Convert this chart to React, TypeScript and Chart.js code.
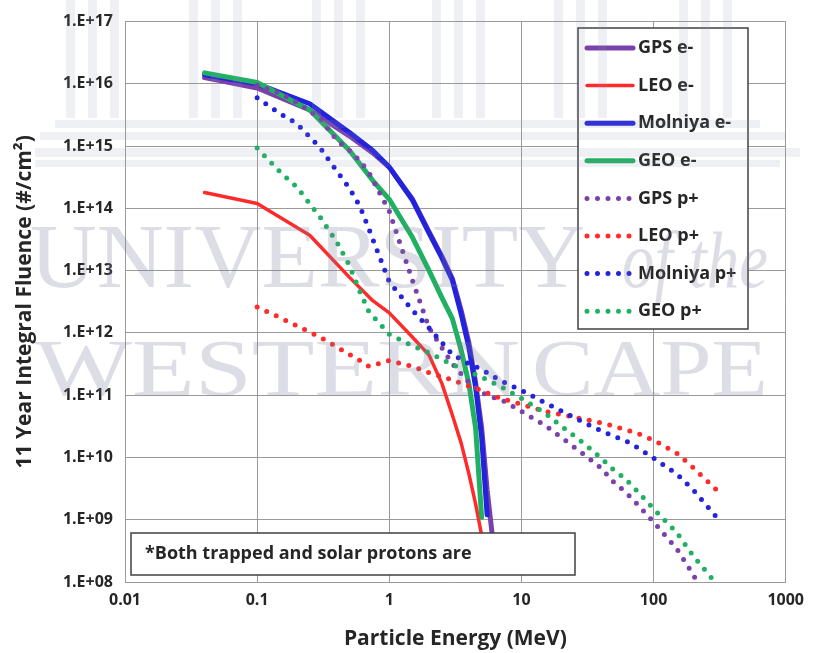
import React, { useEffect, useRef } from 'react';
import { Chart, registerables } from 'chart.js';

Chart.register(...registerables);

// ---------------- data ----------------
const electronEnergy = [0.04, 0.1, 0.25, 0.5, 0.75, 1, 1.5, 2, 2.5, 3, 3.5, 4, 4.5, 5, 5.5, 6];
const protonEnergy = [0.1, 0.15, 0.2, 0.3, 0.4, 0.5, 0.6, 0.7, 1, 1.5, 2, 3, 4, 5, 6, 7, 10, 15, 20, 30, 40, 50, 60, 70, 100, 150, 200, 300];

const gpsElectron = [1.26e16, 8.6e15, 3.8e15, 1.45e15, 7.8e14, 4.6e14, 1.4e14, 4.2e13, 1.7e13, 7.5e12, 2.3e12, 7e11, 1.6e11, 3e10, 3e9, 6e8];
const leoElectron = [1.8e14, 1.2e14, 3.7e13, 7.8e12, 3.3e12, 2.1e12, 8.5e11, 4.4e11, 1.55e11, 4.8e10, 1.7e10, 5.5e9, 1.8e9, 5.6e8];
const molniyaElectron = [1.4e16, 1.0e16, 4.8e15, 1.66e15, 8.5e14, 4.6e14, 1.35e14, 4e13, 1.6e13, 7e12, 2e12, 5.9e11, 1.35e11, 2.1e10, 1.2e9];
const geoElectron = [1.5e16, 1.05e16, 3.8e15, 8.5e14, 2.8e14, 1.4e14, 3.4e13, 1e13, 3.7e12, 1.7e12, 5.3e11, 1.55e11, 3e10, 1.1e9];

const gpsProton = [9.5e15, 7e15, 5e15, 2.8e15, 1.25e15, 8.5e14, 5.8e14, 3.8e14, 9e13, 6.9e12, 1.2e12, 3.2e11, 1.6e11, 1.1e11, 9.3e10, 8.5e10, 5.5e10, 3.3e10, 2.1e10, 1.1e10, 6.8e9, 4e9, 2.9e9, 2.1e9, 9.2e8, 3.4e8, 1.3e8, 2.5e7];
const leoProton = [2.6e12, 1.75e12, 1.3e12, 8.5e11, 6e11, 4.5e11, 3.6e11, 2.9e11, 3.6e11, 2.9e11, 2.3e11, 1.75e11, 1.4e11, 1.2e11, 1e11, 8.9e10, 7.1e10, 5.5e10, 4.9e10, 4.1e10, 3.6e10, 3.2e10, 2.8e10, 2.6e10, 1.9e10, 1.17e10, 6.8e9, 3e9];
const molniyaProton = [6e15, 3.3e15, 2.3e15, 9.4e14, 4e14, 2.1e14, 1.07e14, 4.7e13, 6.6e12, 2.3e12, 1.2e12, 4.5e11, 3.2e11, 2.6e11, 2.05e11, 1.7e11, 1.2e11, 7.6e10, 5.6e10, 3.6e10, 2.7e10, 2.2e10, 1.9e10, 1.6e10, 9.8e9, 5.4e9, 3e9, 1.1e9];
const geoProton = [9.3e14, 3.8e14, 2.2e14, 7.2e13, 2.9e13, 1.2e13, 4.6e12, 2.2e12, 9.5e11, 6.2e11, 4.8e11, 3.1e11, 2.4e11, 1.95e11, 1.6e11, 1.38e11, 8.9e10, 5.2e10, 3.2e10, 1.66e10, 9.8e9, 6.3e9, 4.7e9, 3.4e9, 1.5e9, 6.2e8, 2.6e8, 9.3e7];

const seriesLabels = ['GPS e-', 'LEO e-', 'Molniya e-', 'GEO e-', 'GPS p+', 'LEO p+', 'Molniya p+', 'GEO p+'];

const xTickValues = [0.01, 0.1, 1, 10, 100, 1000];
const xTickLabels = ['0.01', '0.1', '1', '10', '100', '1000'];
const yTickValues = [1e8, 1e9, 1e10, 1e11, 1e12, 1e13, 1e14, 1e15, 1e16, 1e17];
const yTickLabels = ['1.E+08', '1.E+09', '1.E+10', '1.E+11', '1.E+12', '1.E+13', '1.E+14', '1.E+15', '1.E+16', '1.E+17'];

const xTitle = 'Particle Energy (MeV)';
const yTitle = '11 Year Integral Fluence (#/cm\u00B2)';
const noteText = '*Both trapped and solar protons are';
const watermarkLine1 = 'UNIVERSITY';
const watermarkLine1b = 'of the';
const watermarkLine2 = 'WESTERN';
const watermarkLine2b = 'CAPE';

// ---------------- styles ----------------
const PURPLE = '#7A40AC';
const RED = '#FF2B2B';
const BLUE = '#2323DC';
const GREEN = '#20B062';
const FONT = '"Open Sans"';
const TEXT = '#262626';
const GRID = '#9a9a9a';

const toPoints = (xs: number[], ys: number[]) => ys.map((y, i) => ({ x: xs[i], y }));

const overlayPlugin = {
  id: 'overlay',
  afterDatasetsDraw(chart: any) {
    const ctx = chart.ctx as CanvasRenderingContext2D;
    // note box
    ctx.save();
    ctx.fillStyle = '#ffffff';
    ctx.fillRect(131, 533, 444, 42);
    ctx.strokeStyle = '#404040';
    ctx.lineWidth = 1.5;
    ctx.strokeRect(131, 533, 444, 42);
    ctx.fillStyle = TEXT;
    ctx.font = `bold 18px ${FONT}`;
    ctx.textBaseline = 'middle';
    ctx.fillText(noteText, 145, 554);
    ctx.restore();

    // legend
    ctx.save();
    ctx.fillStyle = '#ffffff';
    ctx.fillRect(578, 28, 170, 301);
    ctx.strokeStyle = '#404040';
    ctx.lineWidth = 1.5;
    ctx.strokeRect(578, 28, 170, 301);
    chart.data.datasets.forEach((ds: any, i: number) => {
      const y = 48 + i * 37.6;
      ctx.save();
      ctx.strokeStyle = ds.borderColor;
      ctx.lineWidth = ds.borderWidth;
      ctx.setLineDash(ds.borderDash || []);
      ctx.lineCap = 'round';
      ctx.beginPath();
      if (ds.borderDash) {
        ctx.moveTo(587, y);
        ctx.lineTo(631, y);
      } else {
        ctx.moveTo(587, y);
        ctx.lineTo(633, y);
      }
      ctx.stroke();
      ctx.restore();
      ctx.fillStyle = TEXT;
      ctx.font = `bold 18px ${FONT}`;
      ctx.textBaseline = 'middle';
      ctx.fillText(ds.label, 638, y);
    });
    ctx.restore();
  },
  afterDraw(chart: any) {
    const ctx = chart.ctx as CanvasRenderingContext2D;
    ctx.save();
    // faint watermark: building columns
    ctx.fillStyle = 'rgba(140,150,180,0.14)';
    [92, 215, 338, 458, 580, 705].forEach((c) => {
      [-22, 0, 22].forEach((d) => ctx.fillRect(c + d - 4, 0, 9, 118));
    });
    ctx.fillRect(55, 120, 705, 8);
    ctx.fillRect(40, 132, 745, 8);
    ctx.fillRect(35, 148, 765, 9);
    ctx.fillRect(35, 160, 745, 7);
    // watermark text
    ctx.fillStyle = 'rgba(120,125,150,0.25)';
    ctx.textBaseline = 'alphabetic';
    const fit = (t: string, x0: number, x1: number, base: number, font: string) => {
      ctx.font = font;
      const w = ctx.measureText(t).width;
      ctx.save();
      ctx.translate(x0, base);
      ctx.scale((x1 - x0) / w, 1);
      ctx.fillText(t, 0, 0);
      ctx.restore();
    };
    fit(watermarkLine1, 30, 585, 287, '92px "Liberation Serif"');
    fit(watermarkLine1b, 622, 768, 287, 'italic 80px "Liberation Serif"');
    fit(watermarkLine2, 35, 520, 395, '80px "Liberation Serif"');
    fit(watermarkLine2b, 532, 768, 395, '80px "Liberation Serif"');
    ctx.restore();
  },
};

export default function App() {
  const ref = useRef<HTMLCanvasElement | null>(null);

  useEffect(() => {
    document.body.style.margin = '0';
    const canvas = ref.current;
    if (!canvas) return;

    const solid = (label: string, color: string, ys: number[], width: number, order: number) => ({
      label,
      data: toPoints(electronEnergy, ys),
      borderColor: color,
      backgroundColor: color,
      borderWidth: width,
      pointRadius: 0,
      tension: 0,
      fill: false,
      order,
      borderCapStyle: 'round',
      borderJoinStyle: 'round',
    });
    const dotted = (label: string, color: string, ys: number[], order: number) => ({
      label,
      data: toPoints(protonEnergy, ys),
      borderColor: color,
      backgroundColor: color,
      borderWidth: 5,
      borderDash: [0, 10.5],
      borderCapStyle: 'round',
      borderJoinStyle: 'round',
      pointRadius: 0,
      tension: 0,
      fill: false,
      order,
    });

    const chart = new Chart(canvas, {
      type: 'line',
      data: {
        datasets: [
          solid(seriesLabels[0], PURPLE, gpsElectron, 5, 8),
          solid(seriesLabels[1], RED, leoElectron, 3.5, 7),
          solid(seriesLabels[2], BLUE, molniyaElectron, 5, 6),
          solid(seriesLabels[3], GREEN, geoElectron, 5, 5),
          dotted(seriesLabels[4], PURPLE, gpsProton, 4),
          dotted(seriesLabels[5], RED, leoProton, 3),
          dotted(seriesLabels[6], BLUE, molniyaProton, 2),
          dotted(seriesLabels[7], GREEN, geoProton, 1),
        ] as any,
      },
      options: {
        animation: false,
        responsive: false,
        devicePixelRatio: 1,
        layout: { padding: { top: 21, right: 22, bottom: 0, left: 0 } },
        plugins: { legend: { display: false }, tooltip: { enabled: false } },
        scales: {
          x: {
            type: 'logarithmic',
            min: 0.01,
            max: 1000,
            afterBuildTicks: (s: any) => {
              s.ticks = xTickValues.map((v) => ({ value: v }));
            },
            afterFit: (s: any) => {
              s.height = 71;
            },
            ticks: {
              autoSkip: false,
              maxRotation: 0,
              padding: 9,
              color: TEXT,
              font: { family: FONT, weight: 'bold', size: 16 },
              callback: (_v: any, i: number) => xTickLabels[i],
            },
            grid: { color: GRID, lineWidth: 1, drawTicks: false },
            border: { color: GRID, width: 1 },
            title: {
              display: true,
              text: xTitle,
              color: TEXT,
              font: { family: FONT, weight: 'bold', size: 21 },
              padding: { top: 0, bottom: 1 },
            },
          },
          y: {
            type: 'logarithmic',
            min: 1e8,
            max: 1e17,
            afterBuildTicks: (s: any) => {
              s.ticks = yTickValues.map((v) => ({ value: v }));
            },
            afterFit: (s: any) => {
              s.width = 125;
            },
            ticks: {
              autoSkip: false,
              padding: 12,
              color: TEXT,
              font: { family: FONT, weight: 'bold', size: 16 },
              callback: (_v: any, i: number) => yTickLabels[i],
            },
            grid: { color: GRID, lineWidth: 1, drawTicks: false },
            border: { color: GRID, width: 1 },
            title: {
              display: true,
              text: yTitle,
              color: TEXT,
              font: { family: FONT, weight: 'bold', size: 21 },
              padding: { top: 12, bottom: 0 },
            },
          },
        },
      } as any,
      plugins: [overlayPlugin],
    });

    return () => chart.destroy();
  }, []);

  return (
    <div style={{ width: 813, height: 653, background: '#fff' }}>
      <canvas ref={ref} width={813} height={653} style={{ display: 'block' }} />
    </div>
  );
}
